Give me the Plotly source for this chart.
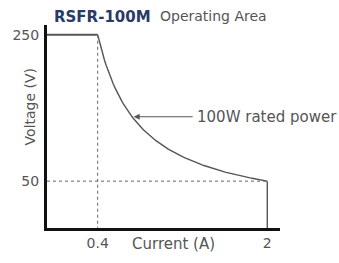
import plotly.graph_objects as go
import numpy as np

# data
power_w = 100
current_min = 0.4
current_max = 2
voltage_max = 250
voltage_min = 50
x_ticks = [0.4, 2]
x_tick_labels = ["0.4", "2"]
y_ticks = [50, 250]
y_tick_labels = ["50", "250"]

x0 = -0.078
x1 = 2.12
y0 = -14
y1 = 263.3

curve_i = np.linspace(current_min, current_max, 100)
curve_v = power_w / curve_i

fig = go.Figure()
line_col = "#555555"
fig.add_trace(go.Scatter(x=[x0, current_min], y=[voltage_max, voltage_max], mode="lines",
                         line=dict(color=line_col, width=1.8), showlegend=False, hoverinfo="skip"))
fig.add_trace(go.Scatter(x=curve_i, y=curve_v, mode="lines",
                         line=dict(color=line_col, width=1.4), showlegend=False, hoverinfo="skip"))
fig.add_trace(go.Scatter(x=[current_min, current_min], y=[voltage_max, y0], mode="lines",
                         line=dict(color="#666666", width=1, dash="dot"), showlegend=False, hoverinfo="skip"))
fig.add_trace(go.Scatter(x=[x0, current_max], y=[voltage_min, voltage_min], mode="lines",
                         line=dict(color="#666666", width=1, dash="dot"), showlegend=False, hoverinfo="skip"))
fig.add_trace(go.Scatter(x=[current_max, current_max], y=[voltage_min, y0], mode="lines",
                         line=dict(color=line_col, width=1.4), showlegend=False, hoverinfo="skip"))

fig.update_layout(
    width=339, height=263,
    margin=dict(l=41, r=59, t=25, b=30),
    paper_bgcolor="white", plot_bgcolor="white",
    font=dict(family="DejaVu Sans", size=14, color="#555555"),
    showlegend=False,
)
fig.update_xaxes(range=[x0, x1], tickvals=x_ticks, ticktext=x_tick_labels,
                 showgrid=False, zeroline=False, showline=True, linecolor="#111111", linewidth=3,
                 ticks="", tickfont=dict(size=14, color="#555555"), fixedrange=True)
fig.update_yaxes(range=[y0, y1], tickvals=y_ticks, ticktext=y_tick_labels,
                 showgrid=False, zeroline=False, showline=True, linecolor="#111111", linewidth=3,
                 ticks="", ticklabelstandoff=2, tickfont=dict(size=14, color="#555555"), fixedrange=True)

fig.add_annotation(x=(171-41)/239, y=-(249-233)/208, xref="paper", yref="paper", text="Current (A)",
                   showarrow=False, xanchor="center", yanchor="middle", font=dict(size=15, color="#555555"))
fig.add_annotation(x=(24-41)/239, y=(233-109)/208, xref="paper", yref="paper", text="Voltage (V)",
                   showarrow=False, textangle=-90, xanchor="center", yanchor="middle",
                   font=dict(size=14, color="#555555"))
fig.add_annotation(xref="paper", yref="paper", x=(46-41)/239, y=1 + (25-17)/208, text="<b>RSFR-100M</b>",
                   showarrow=False, xanchor="left", yanchor="middle", font=dict(size=15, color="#2a3a66"))
fig.add_annotation(xref="paper", yref="paper", x=(155-41)/239, y=1 + (25-16)/208, text="Operating Area",
                   showarrow=False, xanchor="left", yanchor="middle", font=dict(size=14, color="#555555"))
fig.add_annotation(x=0.74, y=138, ax=1.31, ay=138, xref="x", yref="y", axref="x", ayref="y",
                   text="", showarrow=True, arrowhead=2, arrowsize=1, arrowwidth=1.2, arrowcolor="#555555")
fig.add_annotation(x=1.32, y=138, xref="x", yref="y", text="100W rated power", showarrow=False,
                   xanchor="left", yanchor="middle", font=dict(size=15, color="#555555"))

fig.write_html("out.html", config={"displayModeBar": False},
               post_script="document.body.style.margin='0';document.body.style.overflow='hidden';")
